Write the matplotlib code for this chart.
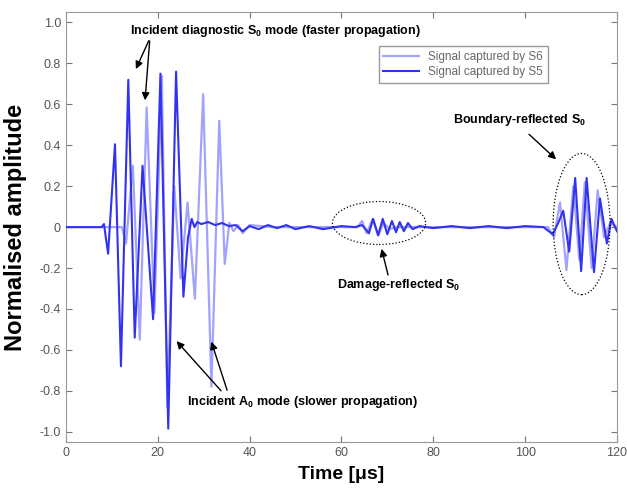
import numpy as np
import matplotlib
matplotlib.use('Agg')
import matplotlib.pyplot as plt
from matplotlib.patches import Ellipse

plt.rcParams['font.family'] = ['Liberation Sans', 'DejaVu Sans']
plt.rcParams['mathtext.fontset'] = 'custom'
plt.rcParams['mathtext.rm'] = 'Liberation Sans'
plt.rcParams['mathtext.bf'] = 'Liberation Sans:bold'

# signal captured by S5 (dark trace): time [us], normalised amplitude at turning points
t_s5 = [0, 7.8, 8.3, 9.2, 10.7, 12.0, 13.6, 15.0, 16.7, 19.0, 20.6, 22.3, 24.0, 25.6,
        26.6, 27.4, 28.0, 28.6, 29.5, 31.0, 32.5, 34.0, 35.5, 37.0, 38.5, 40.0, 42.0,
        44.0, 46.0, 48.0, 50.0, 53.0, 56.0, 60.0, 63.0, 64.5, 66.0, 66.9, 68.0, 69.0,
        70.0, 71.0, 71.9, 72.7, 73.6, 74.5, 75.5, 77.0, 80.0, 84.0, 88.0, 92.0, 96.0,
        100.0, 104.0, 106.0, 107.2, 108.3, 109.6, 110.9, 112.2, 113.4, 115.0, 116.3,
        117.8, 118.8, 120.0]
a_s5 = [0, 0, 0.015, -0.13, 0.405, -0.68, 0.72, -0.54, 0.30, -0.45, 0.75, -0.985, 0.76, -0.34,
        -0.05, 0.04, 0.0, 0.025, 0.015, 0.025, 0.01, 0.02, 0.005, 0.01, -0.02, 0.005, -0.01,
        0.01, -0.005, 0.01, -0.01, 0.005, -0.01, 0.005, 0.0, 0.01, -0.03, 0.04, -0.04, 0.04,
        -0.035, 0.03, -0.025, 0.025, -0.02, 0.02, -0.01, 0.005, -0.005, 0.005, -0.005, 0.005, -0.005,
        0.005, 0.0, -0.035, 0.02, 0.08, -0.12, 0.24, -0.215, 0.24, -0.22, 0.14,
        -0.08, 0.04, -0.02]

# signal captured by S6 (light trace)
t_s6 = [0, 12.2, 13.1, 14.6, 16.1, 17.6, 19.3, 20.9, 22.1, 23.6, 25.0, 26.5, 28.1, 29.9,
        31.7, 33.4, 34.6, 35.6, 36.5, 37.5, 38.5, 40.0, 45.0, 60.0, 63.5, 64.5, 65.5, 66.8,
        68.0, 69.2, 70.5, 72.0, 105.0, 106.3, 107.6, 109.0, 110.5, 111.8, 113.0, 114.5,
        115.8, 117.2, 118.5, 120.0]
a_s6 = [0, 0, -0.08, 0.30, -0.55, 0.585, -0.42, 0.74, -0.88, 0.20, -0.25, 0.12, -0.35, 0.65,
        -0.78, 0.52, -0.18, 0.02, -0.02, 0.01, -0.03, 0.01, 0.0, 0.0, 0.0, 0.03, -0.03, 0.04,
        -0.04, 0.02, -0.01, 0.0, 0.0, -0.05, 0.12, -0.21, 0.20, -0.16, 0.22, -0.20,
        0.18, -0.05, 0.02, 0.0]

x_ticks = [0, 20, 40, 60, 80, 100, 120]
y_ticks = [1.0, 0.8, 0.6, 0.4, 0.2, 0, -0.2, -0.4, -0.6, -0.8, -1.0]
y_labels = ['1.0', '0.8', '0.6', '0.4', '0.2', '0', '-0.2', '-0.4', '-0.6', '-0.8', '-1.0']

fig = plt.figure(figsize=(6.27, 4.90), dpi=100)
ax = fig.add_axes([0.105, 0.098, 0.879, 0.877])

ax.plot(t_s6, a_s6, color='#a3a3ff', lw=1.6, label='Signal captured by S6', zorder=2)
ax.plot(t_s5, a_s5, color='#3232f0', lw=1.5, label='Signal captured by S5', zorder=3)

ax.set_xlim(0, 120)
ax.set_ylim(-1.05, 1.05)
ax.set_xticks(x_ticks)
ax.set_yticks(y_ticks)
ax.set_yticklabels(y_labels)
ax.tick_params(direction='in', top=True, right=True, labelsize=9,
               colors='#777777', labelcolor='#555555', length=4)
for sp in ax.spines.values():
    sp.set_color('#999999')

ax.set_xlabel('Time [\u03bcs]', fontsize=14, fontweight='bold', labelpad=5)
ax.set_ylabel('Normalised amplitude', fontsize=17, fontweight='bold', labelpad=9)

leg = ax.legend(loc='upper right', bbox_to_anchor=(0.885, 0.935), fontsize=8.5,
                fancybox=False, framealpha=1, edgecolor='#999999', borderpad=0.4,
                handlelength=3.0, labelspacing=0.3)
for txt in leg.get_texts():
    txt.set_color('#666666')

# annotations
bold = dict(fontsize=9, fontweight='bold', ha='center', va='center')
arrow = dict(arrowstyle='-|>', color='black', lw=1.0, mutation_scale=11)

ax.text(45.7, 0.956, 'Incident diagnostic S$_\\mathbf{0}$ mode (faster propagation)', **bold)
ax.annotate('', xy=(15.0, 0.76), xytext=(18.3, 0.923), arrowprops=arrow)
ax.annotate('', xy=(17.2, 0.606), xytext=(18.3, 0.923), arrowprops=arrow)

ax.text(51.6, -0.857, 'Incident A$_\\mathbf{0}$ mode (slower propagation)', **bold)
ax.annotate('', xy=(23.7, -0.547), xytext=(34.2, -0.81), arrowprops=arrow)
ax.annotate('', xy=(31.5, -0.547), xytext=(35.3, -0.81), arrowprops=arrow)

ax.text(72.5, -0.283, 'Damage-reflected S$_\\mathbf{0}$', **bold)
ax.annotate('', xy=(68.6, -0.093), xytext=(70.3, -0.247), arrowprops=arrow)

ax.text(98.7, 0.522, 'Boundary-reflected S$_\\mathbf{0}$', **bold)
ax.annotate('', xy=(107.2, 0.322), xytext=(100.4, 0.463), arrowprops=arrow)

ax.add_patch(Ellipse((68.2, 0.02), 20.3, 0.21, fill=False, ls=':', lw=0.9,
                     color='black', zorder=4))
ax.add_patch(Ellipse((112.3, 0.015), 12.4, 0.69, fill=False, ls=':', lw=0.9,
                     color='black', zorder=4))

fig.savefig('out.png', dpi=100)
